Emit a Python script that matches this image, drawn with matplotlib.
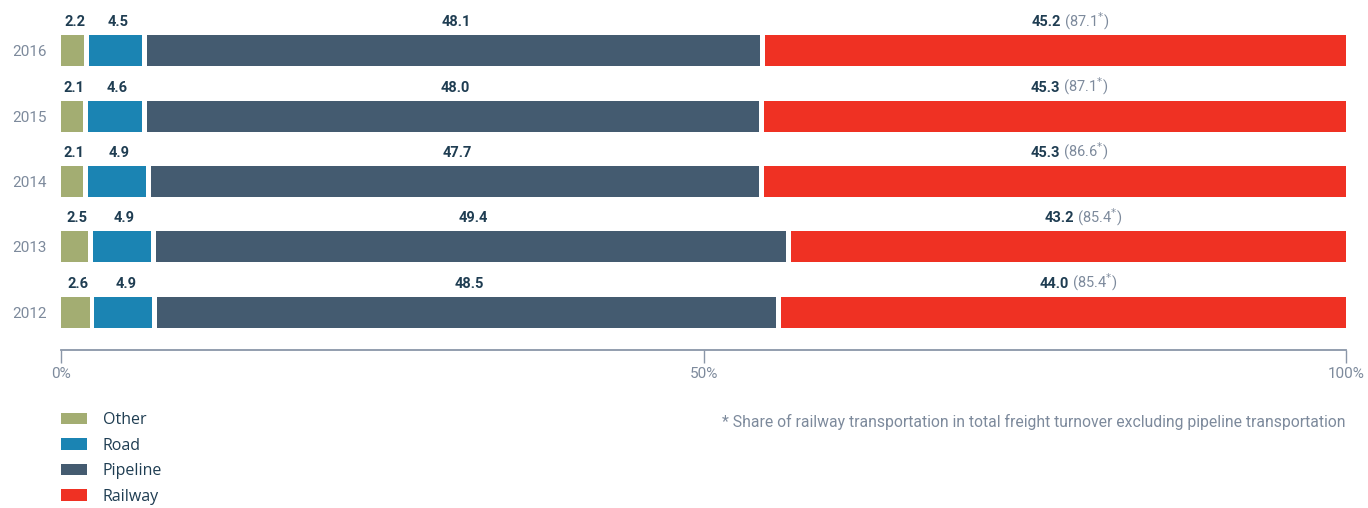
import matplotlib
matplotlib.use("Agg")
import matplotlib.pyplot as plt
from matplotlib.patches import Patch
import numpy as np

plt.rcParams['font.family'] = ['Roboto', 'DejaVu Sans']

# data
years = ['2012', '2013', '2014', '2015', '2016']
other = [2.6, 2.5, 2.1, 2.1, 2.2]
road = [4.9, 4.9, 4.9, 4.6, 4.5]
pipeline = [48.5, 49.4, 47.7, 48.0, 48.1]
railway = [44.0, 43.2, 45.3, 45.3, 45.2]
rail_excl_pipe = [85.4, 85.4, 86.6, 87.1, 87.1]

series = [other, road, pipeline, railway]
names = ['Other', 'Road', 'Pipeline', 'Railway']
colors = ['#a3ad72', '#1b84b3', '#445b70', '#ef3123']

label_col = '#1f3d52'
gray = '#7d8a9c'
gap = 0.38  # white gap between segments, in %

fig = plt.figure(figsize=(13.68, 5.08), dpi=100)
ax = fig.add_axes([61 / 1368, 158 / 508, 1285 / 1368, 350 / 508])

y = np.arange(len(years))
left = np.zeros(len(years))
for i, (vals, c) in enumerate(zip(series, colors)):
    vals = np.array(vals)
    w = vals - gap if i < len(series) - 1 else vals
    ax.barh(y, w, left=left, height=0.475, color=c, linewidth=0)
    centers = left + vals / 2
    for yy, cx, v, r in zip(y, centers, vals, rail_excl_pipe):
        if i < len(series) - 1:
            ax.annotate(f'{v:.1f}', (cx, yy + 0.2375), xytext=(0, 6.5),
                        textcoords='offset points', ha='center', va='baseline',
                        fontsize=10.5, fontweight='bold', color=label_col)
        else:
            ax.annotate(f'{v:.1f}', (cx, yy + 0.2375), xytext=(4, 6.5),
                        textcoords='offset points', ha='right', va='baseline',
                        fontsize=10.5, fontweight='bold', color=label_col)
            ax.annotate(f'({r:.1f}$^{{*}}$)', (cx, yy + 0.2375), xytext=(6, 6.5),
                        textcoords='offset points', ha='left', va='baseline',
                        fontsize=10.5, color=gray)
    left = left + vals

ax.set_xlim(0, 100)
ax.set_ylim(-0.58, 4.78)
ax.set_yticks(y)
ax.set_yticklabels(years)
ax.tick_params(axis='y', length=0, pad=10, labelsize=11, labelcolor=gray)
ax.set_xticks([0, 50, 100])
ax.set_xticklabels(['0%', '50%', '100%'])
ax.tick_params(axis='x', length=9, width=1, color='#8a96a8', pad=3,
               labelsize=11, labelcolor=gray)
for s in ['top', 'right', 'left']:
    ax.spines[s].set_visible(False)
ax.spines['bottom'].set_color('#8a96a8')
ax.spines['bottom'].set_linewidth(1.3)

handles = [Patch(facecolor=c, edgecolor='none') for c in colors]
fig.legend(handles, names, loc='upper left', bbox_to_anchor=(61 / 1368, 1 - 412 / 508),
           frameon=False, labelcolor=label_col, borderpad=0, borderaxespad=0,
           handlelength=1.6, handleheight=0.75, handletextpad=1.0, labelspacing=0.6,
           prop={'family': 'Open Sans', 'size': 11.5})

fig.text(1345 / 1368, 1 - 422 / 508,
         '* Share of railway transportation in total freight turnover excluding pipeline transportation',
         ha='right', va='center', fontsize=11.3, color=gray)

fig.savefig('out.png', dpi=100)
